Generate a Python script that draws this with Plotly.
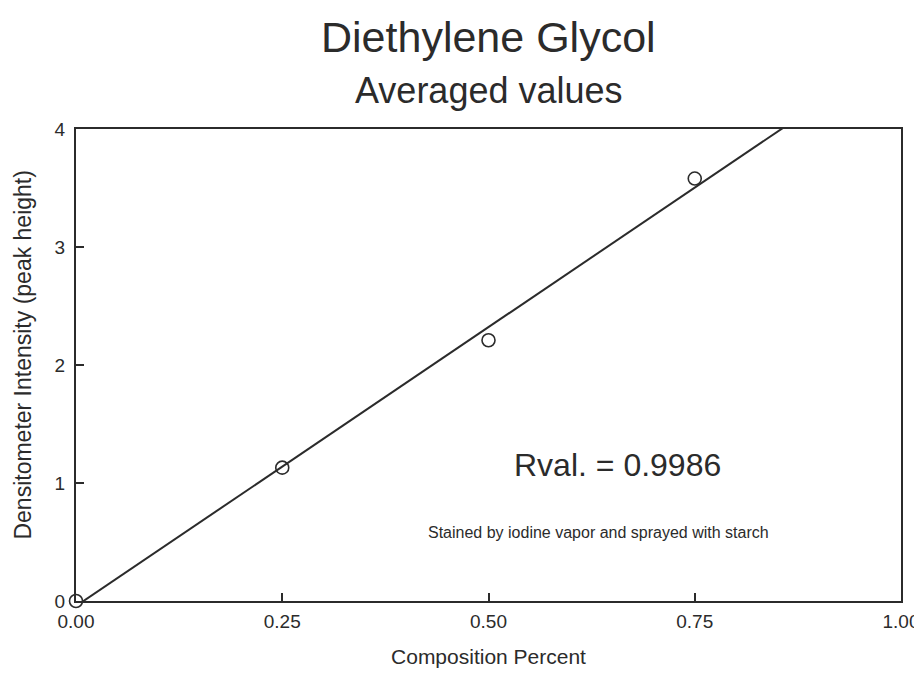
import numpy as np
import plotly.graph_objects as go

composition = [0.0, 0.25, 0.50, 0.75]
intensity = [0.0, 1.13, 2.21, 3.58]
x_ticks = [0.0, 0.25, 0.50, 0.75, 1.00]
x_tick_labels = ["0.00", "0.25", "0.50", "0.75", "1.00"]
y_ticks = [0, 1, 2, 3, 4]
rval_text = "Rval. = 0.9986"
note_text = "Stained by iodine vapor and sprayed with starch"
y_title = "Densitometer Intensity (peak height)"

slope, intercept = np.polyfit(composition, intensity, 1)
fit_x = [0.0, 1.0]
fit_y = [intercept + slope * v for v in fit_x]

INK = "#2b2b2b"
FONT = "Liberation Sans, Arial, sans-serif"

fig = go.Figure()
fig.add_trace(go.Scatter(x=fit_x, y=fit_y, mode="lines",
                         line=dict(color=INK, width=2), showlegend=False, hoverinfo="skip"))
fig.add_trace(go.Scatter(x=composition, y=intensity, mode="markers",
                         marker=dict(symbol="circle-open", size=13, color=INK, line=dict(width=1.6, color=INK)),
                         cliponaxis=False, showlegend=False))

fig.add_annotation(x=0.656, y=1.15, xref="x", yref="y", text=rval_text, showarrow=False,
                   font=dict(family=FONT, size=32, color=INK))
fig.add_annotation(x=0.633, y=0.58, xref="x", yref="y", text=note_text, showarrow=False,
                   font=dict(family=FONT, size=16, color=INK))
fig.add_annotation(x=0.5, y=1, xref="paper", yref="paper", yshift=92, text="Diethylene Glycol",
                   showarrow=False, yanchor="middle", font=dict(family=FONT, size=43, color=INK))
fig.add_annotation(x=0.5, y=1, xref="paper", yref="paper", yshift=39, text="Averaged values",
                   showarrow=False, yanchor="middle", font=dict(family=FONT, size=36, color=INK))
fig.add_annotation(x=0, y=2.08, xref="paper", yref="y", xshift=-53, text=y_title, textangle=-90,
                   showarrow=False, xanchor="center", yanchor="middle", borderpad=0,
                   font=dict(family=FONT, size=23, color=INK))

fig.update_layout(
    width=914, height=660,
    margin=dict(l=68, r=21, t=121, b=67),
    paper_bgcolor="white", plot_bgcolor="white",
    font=dict(family=FONT, color=INK),
    xaxis=dict(range=[0, 1], tickvals=x_ticks, ticktext=x_tick_labels, automargin=False,
               ticks="inside", ticklen=8, tickwidth=1.5, tickcolor=INK,
               showline=True, linecolor=INK, linewidth=2, mirror=True,
               showgrid=False, zeroline=False, tickfont=dict(size=19), ticklabelstandoff=2,
               title=dict(text="Composition Percent", font=dict(size=21), standoff=25)),
    yaxis=dict(range=[0, 4], tickvals=y_ticks, automargin=False,
               ticks="inside", ticklen=8, tickwidth=1.5, tickcolor=INK,
               showline=True, linecolor=INK, linewidth=2, mirror=True,
               showgrid=False, zeroline=False, tickfont=dict(size=19), ticklabelstandoff=5),
)

fig.write_html("out.html")
